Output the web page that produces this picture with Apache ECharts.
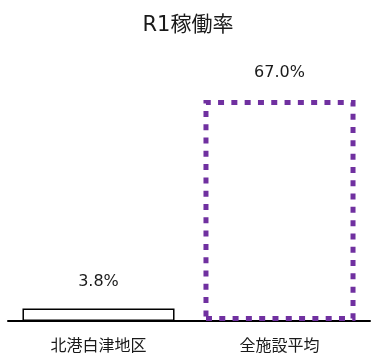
<!DOCTYPE html>
<html><head><meta charset="utf-8">
<script src="https://cdn.jsdelivr.net/npm/echarts@6/dist/echarts.min.js"></script>
<style>html,body{margin:0;padding:0;background:#fff}#c{width:376px;height:361px}</style>
</head><body><div id="c"></div>
<script>
const categories = ['北港白津地区', '全施設平均'];
const values = [3.8, 67.0];
const titleText = 'R1稼働率';
const font = '"DejaVu Sans", "Noto Sans CJK JP", sans-serif';
const chart = echarts.init(document.getElementById('c'));
chart.setOption({
  animation: false,
  title: { text: titleText, left: 'center', top: 10, textStyle: { fontFamily: font, fontSize: 21, fontWeight: 'normal', color: '#1a1a1a' } },
  grid: { left: 8, right: 6, top: 90, bottom: 40 },
  xAxis: {
    type: 'category', data: categories,
    axisLine: { lineStyle: { color: '#000', width: 2 } },
    axisTick: { show: false },
    axisLabel: { fontFamily: font, fontSize: 16, color: '#1a1a1a', margin: 18 }
  },
  yAxis: { type: 'value', min: 0, max: 70, show: false, splitLine: { show: false } },
  series: [{
    type: 'bar', barWidth: '84%',
    data: [
      { value: values[0], itemStyle: { color: '#fff', borderColor: '#000', borderWidth: 1.5 } },
      { value: values[1], itemStyle: { color: '#fff', borderColor: '#7030A0', borderWidth: 5, borderType: [6, 7.3], borderCap: 'butt' } }
    ],
    label: { show: true, position: 'top', distance: 19, fontFamily: font, fontSize: 16, color: '#1a1a1a',
      formatter: p => p.value.toFixed(1) + '%' }
  }]
});
</script></body></html>
